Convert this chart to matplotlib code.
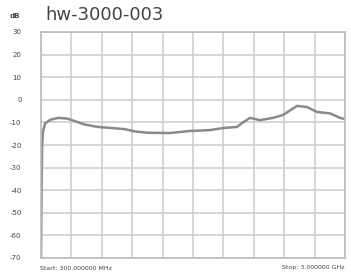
import matplotlib
matplotlib.use("Agg")
import matplotlib.pyplot as plt

# trace (MHz, dB)
freq_mhz = [300, 305, 310, 318, 336, 380, 451, 531, 575, 691, 806, 931, 1046,
            1135, 1250, 1446, 1623, 1801, 1917, 2041, 2094, 2156, 2245, 2361,
            2450, 2574, 2663, 2752, 2867, 2956, 3000]
level_db = [-70, -40, -20, -14, -10.5, -8.9, -8, -8.3, -9, -11, -12, -12.5, -13,
            -14, -14.6, -14.7, -13.8, -13.4, -12.5, -12, -10, -8, -9, -8,
            -6.7, -2.7, -3.2, -5.4, -6, -8, -8.5]
y_ticks = [30, 20, 10, 0, -10, -20, -30, -40, -50, -60, -70]
x_start, x_stop = 300, 3000

fig = plt.figure(figsize=(3.51, 2.79), dpi=100)
ax = fig.add_axes([41 / 351, 21 / 279, 304 / 351, 226 / 279])

ax.plot(freq_mhz, level_db, color="#8a8a8a", linewidth=1.8, solid_capstyle="round")

ax.set_xlim(x_start, x_stop)
ax.set_ylim(-70, 30)
step = (x_stop - x_start) / 10
ax.set_xticks([x_start + i * step for i in range(11)])
ax.set_yticks(y_ticks)
ax.set_xticklabels([])
ax.set_yticklabels([str(t) for t in y_ticks], fontsize=5, color="#444444")
ax.tick_params(length=0, pad=14)
ax.grid(True, color="#cfcfcf", linewidth=1.2)
for s in ax.spines.values():
    s.set_color("#bbbbbb")
    s.set_linewidth(1.2)

fig.text(10 / 351, 1 - 16 / 279, "dB", fontsize=5, color="#444444",
         fontweight="bold", va="center")
fig.text(45 / 351, 1 - 15 / 279, "hw-3000-003", fontsize=13, color="#444444",
         va="center")
fig.text(40 / 351, 1 - 268 / 279, "Start: 300.000000 MHz", fontsize=4.5,
         color="#444444", va="center")
fig.text(345 / 351, 1 - 268 / 279, "Stop: 3.000000 GHz", fontsize=4.5,
         color="#444444", va="center", ha="right")

fig.savefig("out.png", dpi=100)
